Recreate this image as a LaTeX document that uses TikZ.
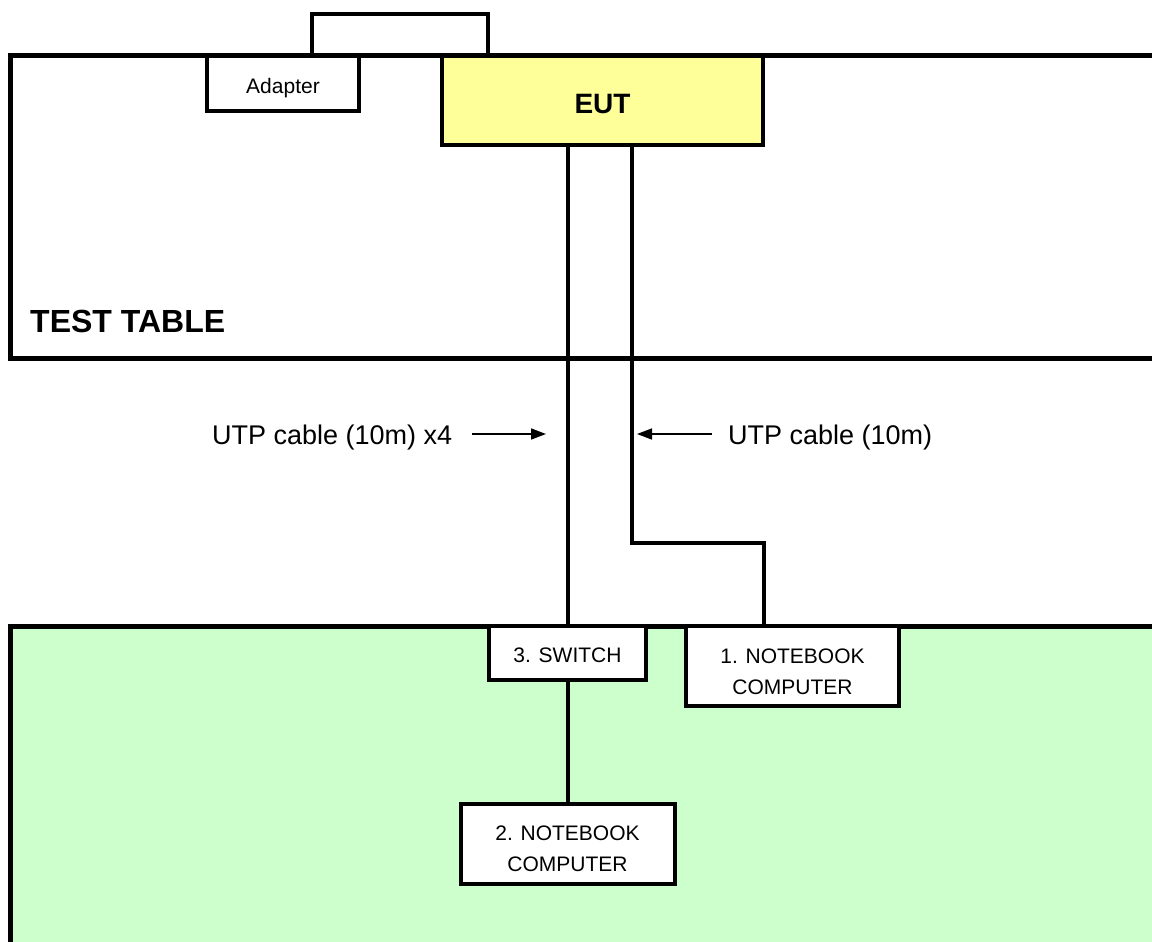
\documentclass[tikz,border=0pt]{standalone}
\usepackage{fontspec}
\setmainfont{Liberation Sans}
\usetikzlibrary{arrows.meta}
\definecolor{eutyellow}{HTML}{FFFF99}
\definecolor{floorgreen}{HTML}{CCFFCC}
\begin{document}
\begin{tikzpicture}[x=1pt,y=-1pt,
  box/.style={draw,line width=4pt,fill=white,inner sep=0pt},
  boxtext/.style={inner sep=0pt,align=center,font=\fontsize{21}{31}\selectfont},
  cable/.style={line width=4pt},
  border/.style={line width=5pt},
  ptr/.style={line width=1.5pt,-{Triangle[length=15pt,width=11pt]}},
  lbl/.style={font=\fontsize{27}{32}\selectfont,inner sep=0pt,anchor=base west}]
\useasboundingbox (0,0) rectangle (1152,942);
\clip (0,0) rectangle (1152,942);
% floor (green) region
\fill[floorgreen] (10,626) rectangle (1170,960);
\draw[border] (1170,626) -- (10,626) -- (10,960);
% test table
\draw[border] (1170,56) -- (10,56) -- (10,358) -- (1170,358);
\node[lbl,font=\fontsize{32}{36}\selectfont\bfseries] (tt) at (30,332) {TEST TABLE};
% devices on the table
\node[box,minimum width=152pt,minimum height=55pt,
      label={[boxtext,yshift=-5pt]center:Adapter}] (adapter) at (283,83.5) {};
\node[box,fill=eutyellow,minimum width=321pt,minimum height=89pt,
      label={[boxtext,yshift=-4pt,font=\fontsize{28}{32}\selectfont\bfseries]center:EUT}] (eut) at (602.5,100.5) {};
% devices on the floor
\node[box,minimum width=157pt,minimum height=54pt,
      label={[boxtext,yshift=-2pt]center:3. SWITCH}] (sw) at (567.5,653) {};
\node[box,minimum width=213pt,minimum height=80pt,
      label={[boxtext,yshift=-6pt]center:{1. NOTEBOOK\\COMPUTER}}] (nb1) at (792.5,666) {};
\node[box,minimum width=214pt,minimum height=80pt,
      label={[boxtext,yshift=-5pt]center:{2. NOTEBOOK\\COMPUTER}}] (nb2) at (567.5,844) {};
% cables
\draw[cable] ([xshift=29pt]adapter.north) -- ++(0,-40) -| ([xshift=-114.5pt]eut.north);
\draw[cable] (sw.north |- eut.south) -- (sw.north);
\coordinate (bend) at (632,543);
\draw[cable] (bend |- eut.south) -- (bend) -| ([xshift=-28.5pt]nb1.north);
\draw[cable] (sw.south) -- (nb2.north);
% labels with pointers
\node[lbl] (l1) at (212,444) {UTP cable (10m) x4};
\coordinate (t1s) at (472,434);
\coordinate (t1) at (546,434);
\draw[ptr] (t1s) -- (t1);
\node[lbl] (l2) at (728,444) {UTP cable (10m)};
\coordinate (t2s) at (712,434);
\coordinate (t2) at (637,434);
\draw[ptr] (t2s) -- (t2);
\end{tikzpicture}
\end{document}
